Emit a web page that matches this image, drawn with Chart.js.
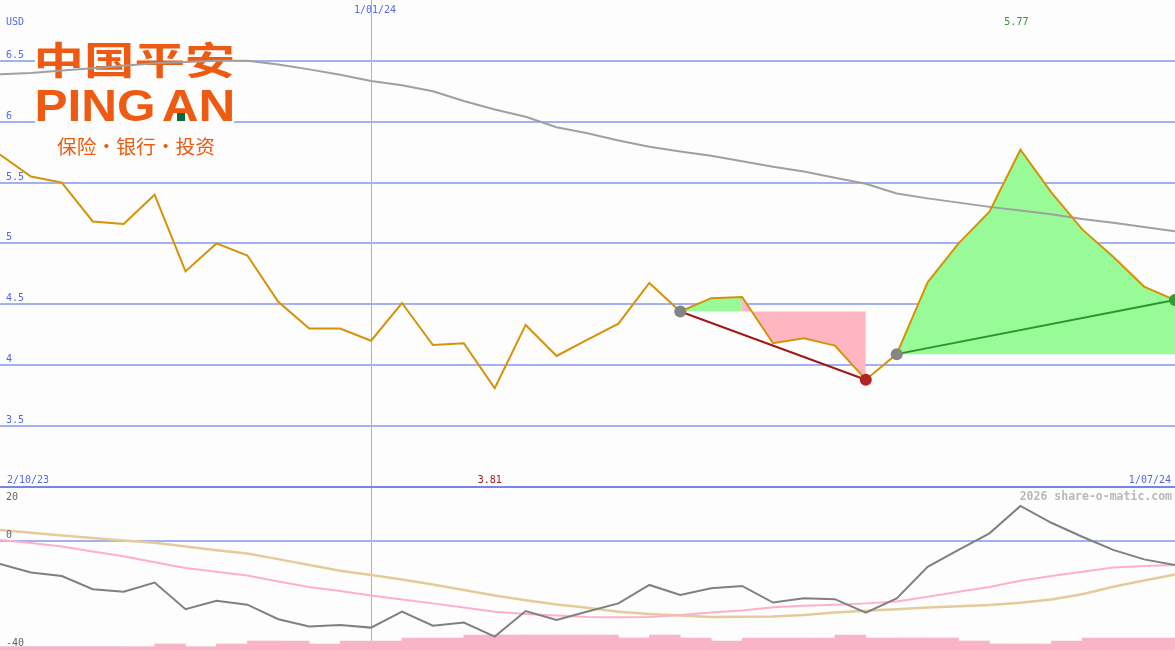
<!DOCTYPE html>
<html>
<head>
<meta charset="utf-8">
<script src="https://cdn.jsdelivr.net/npm/chart.js@4.4.1/dist/chart.umd.min.js"></script>
<style>
  html, body { margin: 0; padding: 0; background: #fcfdfc; overflow: hidden; }
  #wrap { position: relative; width: 1175px; height: 650px; }
  canvas { position: absolute; left: 0; display: block; }
</style>
</head>
<body>
<div id="wrap">
  <canvas id="top" width="1175" height="488" style="top:0"></canvas>
  <canvas id="bot" width="1175" height="162" style="top:488px"></canvas>
</div>
<script>
// weekly closes, USD
const price = [5.73, 5.55, 5.50, 5.18, 5.16, 5.40, 4.77, 5.00, 4.90, 4.52,
               4.30, 4.30, 4.20, 4.51, 4.165, 4.18, 3.81, 4.33, 4.075, 4.21,
               4.34, 4.675, 4.44, 4.55, 4.56, 4.18, 4.22, 4.16, 3.88, 4.09,
               4.68, 5.00, 5.26, 5.77, 5.42, 5.115, 4.89, 4.645, 4.535];
const avgLong = [6.39, 6.40, 6.42, 6.44, 6.46, 6.48, 6.49, 6.50, 6.50, 6.47,
                 6.43, 6.385, 6.335, 6.30, 6.25, 6.17, 6.10, 6.04, 5.955, 5.905,
                 5.845, 5.795, 5.755, 5.72, 5.675, 5.63, 5.59, 5.54, 5.49, 5.41,
                 5.37, 5.335, 5.30, 5.27, 5.24, 5.20, 5.17, 5.135, 5.10];
// lower panel
const osc = [-8.8, -12.1, -13.4, -18.4, -19.4, -15.9, -26.0, -22.8, -24.3, -29.8,
             -32.6, -32.0, -33.0, -26.9, -32.3, -31.1, -36.4, -26.7, -30.1, -26.9,
             -23.8, -16.8, -20.6, -18.1, -17.2, -23.5, -21.9, -22.2, -27.3, -21.9,
             -9.9, -3.5, 2.8, 13.2, 6.8, 1.5, -3.5, -7.1, -9.2];
const oscAvgA = [0.3, -0.9, -2.2, -4.1, -5.9, -8.2, -10.4, -11.8, -13.2, -15.5,
                 -17.6, -19.1, -20.8, -22.3, -23.8, -25.4, -27.0, -27.8, -28.4, -29.0,
                 -29.1, -29.0, -28.2, -27.3, -26.5, -25.3, -24.7, -24.3, -23.8, -23.1,
                 -21.3, -19.4, -17.6, -15.2, -13.4, -11.8, -10.2, -9.6, -9.2];
const oscAvgB = [4.1, 3.0, 2.0, 1.0, 0.1, -0.8, -2.2, -3.6, -4.9, -7.0,
                 -9.2, -11.4, -13.0, -14.7, -16.6, -18.7, -20.8, -22.6, -24.2, -25.5,
                 -27.0, -27.8, -28.4, -29.0, -28.9, -28.8, -28.2, -27.3, -26.6, -26.0,
                 -25.4, -24.9, -24.4, -23.6, -22.3, -20.3, -17.5, -15.1, -12.8];
const volume = [1.1, 1.1, 1.1, 1.1, 1.1, 2, 1.1, 2, 3, 3,
                2, 3, 3, 4, 4, 5, 5, 5, 5, 5,
                4, 5, 4, 3, 4, 4, 4, 5, 4, 4,
                4, 3, 2, 2, 3, 4, 4, 4];

const yTicks = [3.5, 4, 4.5, 5, 5.5, 6, 6.5];
const lowTicks = [20, 0, -40];
const firstDate = '2/10/23', lastDate = '1/07/24';
const markIdx = 12, markDate = '1/01/24';
const fallA = 22, fallB = 28, riseA = 29, riseB = 38;

const GRID = '#a3b1f2';
const LABEL = '#5567f0';
const MONO = '"DejaVu Sans Mono", monospace';

const pts = arr => arr.map((v, i) => ({ x: i, y: v }));
const seg = (a, b) => price.slice(a, b + 1).map((v, k) => ({ x: a + k, y: v }));
const hiIdx = price.indexOf(Math.max(...price));
const loIdx = price.indexOf(Math.min(...price));

function fitBox(ctx, text, font, color, x0, y0, x1, y1) {
  ctx.save();
  ctx.font = font;
  ctx.textAlign = 'left';
  ctx.textBaseline = 'alphabetic';
  const m = ctx.measureText(text);
  const w = m.actualBoundingBoxLeft + m.actualBoundingBoxRight;
  const h = m.actualBoundingBoxAscent + m.actualBoundingBoxDescent;
  const sx = (x1 - x0) / w, sy = (y1 - y0) / h;
  ctx.translate(x0 + m.actualBoundingBoxLeft * sx, y0 + m.actualBoundingBoxAscent * sy);
  ctx.scale(sx, sy);
  ctx.fillStyle = color;
  ctx.fillText(text, 0, 0);
  ctx.restore();
}

function label(ctx, text, x, y, color, align, font) {
  ctx.font = font || ('10px ' + MONO);
  ctx.fillStyle = color;
  ctx.textAlign = align || 'left';
  ctx.textBaseline = 'alphabetic';
  ctx.fillText(text, x, y);
}

const hiddenTicks = { display: false };
const noBorder = { display: false };

const topOverlay = {
  id: 'topOverlay',
  beforeDatasetsDraw(chart) {
    const ctx = chart.ctx;
    const orange = '#ee5a12';
    ctx.save();
    ctx.fillStyle = '#fcfdfc';
    ctx.fillRect(35, 35, 199, 130);
    fitBox(ctx, '中国平安', '700 44px "Noto Sans CJK SC"', orange, 37, 40, 233, 78);
    fitBox(ctx, 'PING', '700 40px "Liberation Sans"', orange, 37, 90, 153, 121);
    fitBox(ctx, 'AN', '700 40px "Liberation Sans"', orange, 163, 90, 233, 121);
    ctx.fillStyle = '#0b6b3e';
    ctx.fillRect(177, 113, 8, 8);
    fitBox(ctx, '保险·银行·投资', '400 20px "Noto Sans CJK SC"', orange, 57, 137, 214, 156);
    ctx.restore();
  },
  afterDraw(chart) {
    const ctx = chart.ctx, xs = chart.scales.x, ys = chart.scales.y;
    ctx.save();
    label(ctx, 'USD', 6, 25, LABEL);
    yTicks.forEach(v => label(ctx, String(v), 6, ys.getPixelForValue(v) - 3, LABEL));
    label(ctx, markDate, xs.getPixelForValue(markIdx) + 4, 13, LABEL, 'center');
    label(ctx, price[hiIdx].toFixed(2), xs.getPixelForValue(hiIdx) - 4, 25, '#2a9a2a', 'center');
    label(ctx, firstDate, 7, 483, LABEL);
    label(ctx, price[loIdx].toFixed(2), xs.getPixelForValue(loIdx) - 5, 483, '#a01c1c', 'center');
    label(ctx, lastDate, 1171, 483, LABEL, 'right');
    ctx.fillStyle = '#7585ea';
    ctx.fillRect(0, 486, chart.width, 2);
    ctx.restore();
  }
};

const botOverlay = {
  id: 'botOverlay',
  afterDraw(chart) {
    const ctx = chart.ctx, ys = chart.scales.y;
    ctx.save();
    lowTicks.forEach(v => {
      const y = v < 0 ? ys.getPixelForValue(v) : Math.max(12, ys.getPixelForValue(v) - 3);
      label(ctx, String(v), 6, y, '#666666');
    });
    label(ctx, '2026 share-o-matic.com', 1172, 12, '#b8b8b8', 'right', 'bold 11.5px ' + MONO);
    ctx.restore();
  }
};

const line = (data, color, width, order) => ({
  data, borderColor: color, borderWidth: width, pointRadius: 0, tension: 0, fill: false, order
});
const area = (data, color, level) => ({
  data, borderWidth: 0, pointRadius: 0, tension: 0, backgroundColor: color,
  fill: { target: { value: level } }, order: 9
});
const dot = (data, color) => ({
  data, showLine: false, pointRadius: 6, pointBorderWidth: 0,
  pointBackgroundColor: color, borderColor: color, order: 0
});

new Chart(document.getElementById('top'), {
  type: 'line',
  data: {
    datasets: [
      area(seg(fallA, fallA + 2), '#98fb98', price[fallA]),
      area(seg(fallA + 2, fallB), '#ffb6c1', price[fallA]),
      area(seg(riseA, riseB), '#98fb98', price[riseA]),
      line(pts(avgLong), '#a0a0a0', 2, 4),
      line(pts(price), '#d69206', 2, 3),
      line([{ x: fallA, y: price[fallA] }, { x: fallB, y: price[fallB] }], '#a01818', 2, 2),
      line([{ x: riseA, y: price[riseA] }, { x: riseB, y: price[riseB] }], '#2a962a', 2, 2),
      dot([{ x: fallA, y: price[fallA] }, { x: riseA, y: price[riseA] }], '#858585'),
      dot([{ x: fallB, y: price[fallB] }], '#b22222'),
      dot([{ x: riseB, y: price[riseB] }], '#2e9e2e')
    ]
  },
  options: {
    responsive: false,
    animation: false,
    layout: { padding: 0, autoPadding: false },
    plugins: { legend: { display: false }, tooltip: { enabled: false } },
    scales: {
      x: {
        type: 'linear', min: 0, max: price.length - 1,
        ticks: hiddenTicks, border: noBorder,
        grid: { color: GRID, lineWidth: 1, drawTicks: false },
        afterBuildTicks: s => { s.ticks = [{ value: markIdx }]; },
        afterFit: s => { s.height = 0; }
      },
      y: {
        type: 'linear', min: 2.99, max: 7.0,
        ticks: hiddenTicks, border: noBorder,
        grid: { color: GRID, lineWidth: 2, drawTicks: false },
        afterBuildTicks: s => { s.ticks = yTicks.map(v => ({ value: v })); },
        afterFit: s => { s.width = 0; }
      }
    }
  },
  plugins: [topOverlay]
});

new Chart(document.getElementById('bot'), {
  type: 'line',
  data: {
    labels: volume.map((_, k) => k),
    datasets: [
      line(pts(osc), '#808080', 2, 1),
      line(pts(oscAvgA), '#ffb0c8', 2, 2),
      line(pts(oscAvgB), '#e4cc9a', 2.5, 3),
      {
        type: 'bar', data: volume, xAxisID: 'xb', yAxisID: 'yv',
        backgroundColor: '#f9b4c8', borderWidth: 0, grouped: false,
        barPercentage: 1, categoryPercentage: 1, order: 9
      }
    ]
  },
  options: {
    responsive: false,
    animation: false,
    layout: { padding: 0, autoPadding: false },
    plugins: { legend: { display: false }, tooltip: { enabled: false } },
    scales: {
      x: {
        type: 'linear', min: 0, max: price.length - 1,
        ticks: hiddenTicks, border: noBorder,
        grid: { color: GRID, lineWidth: 1, drawTicks: false },
        afterBuildTicks: s => { s.ticks = [{ value: markIdx }]; },
        afterFit: s => { s.height = 0; }
      },
      xb: { type: 'category', display: false, offset: true },
      y: {
        type: 'linear', min: -41.5, max: 20,
        ticks: hiddenTicks, border: noBorder,
        grid: { color: GRID, lineWidth: 2, drawTicks: false },
        afterBuildTicks: s => { s.ticks = [{ value: 0 }]; },
        afterFit: s => { s.width = 0; }
      },
      yv: { type: 'linear', display: false, min: 0, max: 54 }
    }
  },
  plugins: [botOverlay]
});
</script>
</body>
</html>
